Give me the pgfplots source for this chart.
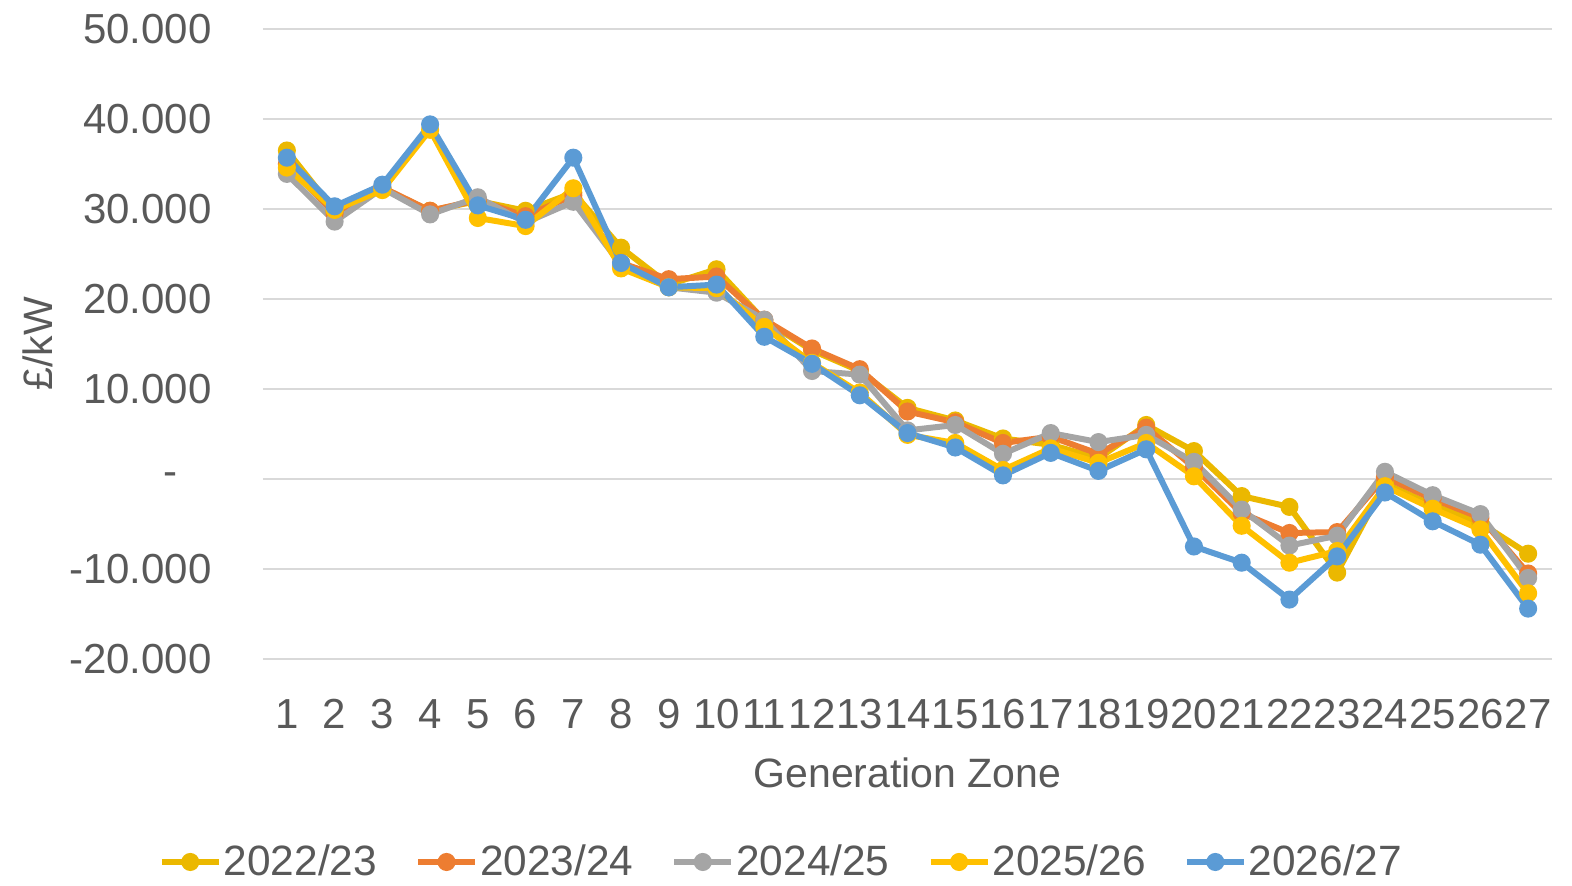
\documentclass[border=0pt]{standalone}
\usepackage{pgfplots}
\pgfplotsset{compat=1.18}
\usepackage{fontspec}
\setmainfont{Liberation Sans}
\definecolor{cA}{RGB}{235,184,0}
\definecolor{cB}{RGB}{237,125,49}
\definecolor{cC}{RGB}{165,165,165}
\definecolor{cD}{RGB}{255,192,0}
\definecolor{cE}{RGB}{91,155,213}
\definecolor{txt}{RGB}{89,89,89}
\definecolor{grd}{RGB}{217,217,217}
\begin{document}
\begin{tikzpicture}
\useasboundingbox (0,0) rectangle (786pt,443pt);
\begin{axis}[
  at={(131.5pt,113.5pt)}, anchor=south west,
  scale only axis, width=644.5pt, height=315pt,
  xmin=0.5, xmax=27.5, ymin=-20, ymax=50,
  xtick={1,2,3,4,5,6,7,8,9,10,11,12,13,14,15,16,17,18,19,20,21,22,23,24,25,26,27},
  xticklabels={1,2,3,4,5,6,7,8,9,10,11,12,13,14,15,16,17,18,19,20,21,22,23,24,25,26,27},
  ytick={-20,-10,0,10,20,30,40,50},
  yticklabels={-20.000,-10.000,{-\kern17pt\mbox{}},10.000,20.000,30.000,40.000,50.000},
  ymajorgrids, grid style={grd, line width=1pt},
  axis line style={draw=none},
  major tick length=0pt,
  tick label style={font=\fontsize{21}{25}\selectfont, text=txt},
  y tick label style={anchor=east, inner sep=0pt, xshift=-25.5pt},
  x tick label style={anchor=center, inner sep=0pt, yshift=-27.5pt},
  xlabel={Generation Zone},
  xlabel style={at={(axis description cs:0.5,0)}, anchor=center, yshift=-57pt, font=\fontsize{20.5}{24}\selectfont, text=txt},
  ylabel={£/kW},
  ylabel style={at={(axis description cs:-0.1746,0.5)}, anchor=center, font=\fontsize{20.5}{24}\selectfont, text=txt},
  every axis plot/.append style={line width=3pt, mark=*, mark size=3.5pt, mark options={solid}},
  legend image code/.code={\draw[mark repeat=2,mark phase=2] plot coordinates {(0pt,0pt) (14.25pt,0pt) (28.5pt,0pt)};},
  legend columns=5,
  legend style={at={(axis description cs:0.4022,-0.3222)}, anchor=center, draw=none, fill=none,
    font=\fontsize{21.2}{26}\selectfont, text=txt,
    nodes={inner sep=1pt},
    /tikz/every even column/.append style={column sep=18pt},
    /pgfplots/every axis plot/.append style={mark size=3pt}},
  legend cell align=left,
]
\addplot[color=cA, mark options={fill=cA}] coordinates {
(1,36.5)(2,29.8)(3,32.3)(4,29.8)(5,30.9)(6,29.8)(7,31.8)(8,25.7)(9,21.6)(10,23.3)
(11,17.6)(12,14.3)(13,12.0)(14,7.9)(15,6.5)(16,4.5)(17,3.8)(18,2.3)(19,6.0)(20,3.1)
(21,-1.9)(22,-3.1)(23,-10.4)(24,-0.5)(25,-2.9)(26,-4.9)(27,-8.3)};
\addlegendentry{2022/23}
\addplot[color=cB, mark options={fill=cB}] coordinates {
(1,35.0)(2,29.5)(3,32.4)(4,29.8)(5,31.0)(6,29.2)(7,31.5)(8,24.0)(9,22.2)(10,22.5)
(11,17.7)(12,14.5)(13,12.2)(14,7.5)(15,6.3)(16,4.0)(17,4.7)(18,2.8)(19,5.7)(20,1.3)
(21,-3.8)(22,-6.0)(23,-5.9)(24,0.2)(25,-2.2)(26,-4.3)(27,-10.5)};
\addlegendentry{2023/24}
\addplot[color=cC, mark options={fill=cC}] coordinates {
(1,33.9)(2,28.6)(3,32.3)(4,29.4)(5,31.3)(6,28.5)(7,30.8)(8,23.8)(9,21.3)(10,20.7)
(11,17.7)(12,12.0)(13,11.6)(14,5.4)(15,6.0)(16,2.8)(17,5.1)(18,4.1)(19,4.9)(20,1.9)
(21,-3.4)(22,-7.4)(23,-6.3)(24,0.8)(25,-1.8)(26,-3.9)(27,-11.0)};
\addlegendentry{2024/25}
\addplot[color=cD, mark options={fill=cD}] coordinates {
(1,34.6)(2,29.9)(3,32.1)(4,38.8)(5,29.0)(6,28.1)(7,32.3)(8,23.4)(9,21.3)(10,21.2)
(11,16.9)(12,12.9)(13,9.6)(14,4.9)(15,4.0)(16,1.0)(17,3.4)(18,1.8)(19,4.0)(20,0.3)
(21,-5.2)(22,-9.3)(23,-8.0)(24,-0.8)(25,-3.3)(26,-5.6)(27,-12.7)};
\addlegendentry{2025/26}
\addplot[color=cE, mark options={fill=cE}] coordinates {
(1,35.7)(2,30.3)(3,32.7)(4,39.4)(5,30.4)(6,28.8)(7,35.7)(8,24.0)(9,21.3)(10,21.6)
(11,15.8)(12,12.8)(13,9.3)(14,5.1)(15,3.5)(16,0.4)(17,2.9)(18,0.9)(19,3.3)(20,-7.5)
(21,-9.3)(22,-13.4)(23,-8.6)(24,-1.5)(25,-4.7)(26,-7.3)(27,-14.4)};
\addlegendentry{2026/27}
\end{axis}
\end{tikzpicture}
\end{document}
